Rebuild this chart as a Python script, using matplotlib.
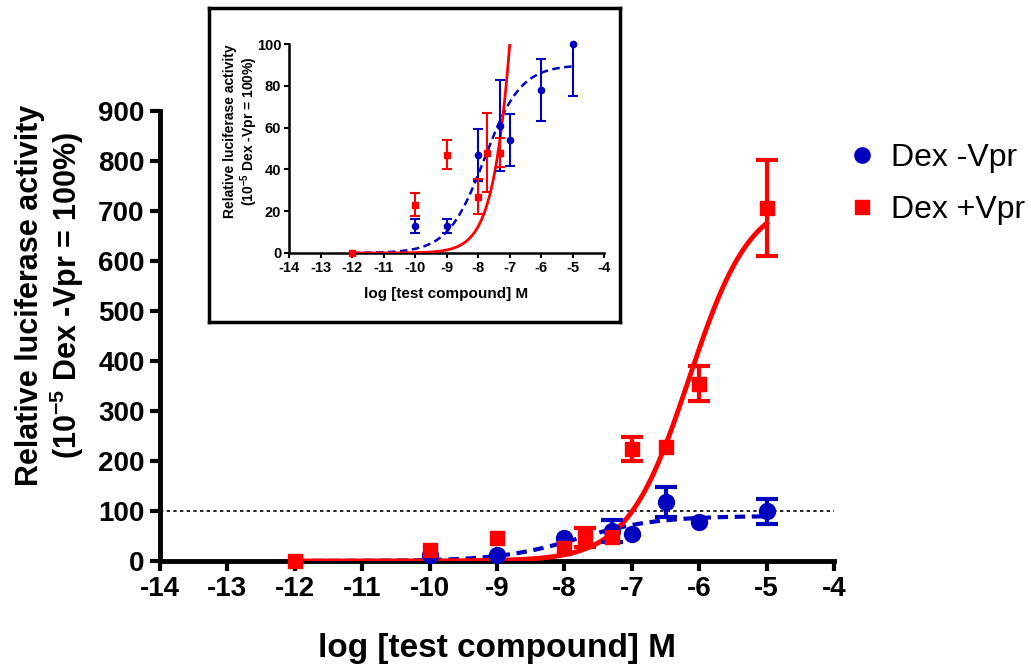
import numpy as np
import matplotlib
matplotlib.use("Agg")
import matplotlib.pyplot as plt
from matplotlib.lines import Line2D

plt.rcParams['font.family'] = ['Liberation Sans', 'DejaVu Sans']
plt.rcParams['axes.unicode_minus'] = False
plt.rcParams['mathtext.fontset'] = 'custom'
plt.rcParams['mathtext.rm'] = 'Liberation Sans'
plt.rcParams['mathtext.bf'] = 'Liberation Sans:bold'

# log concentrations and mean responses (Dex -Vpr = 100%)
x_minus = [-10, -9, -8, -7.3, -7, -6.5, -6, -5]
y_minus = [13, 13, 47, 61, 54, 118, 78, 100]
err_minus = [3.5, 3.5, 12.5, 22, 12.5, 30, 15, 25]

x_plus = [-12, -10, -9, -8, -7.7, -7.3, -7, -6.5, -6, -5]
y_plus = [0, 23, 47, 27, 48, 48, 225, 228, 355, 706]
err_plus = [0, 5.5, 7, 8.5, 19, 7, 24, 4, 35, 96]

# sigmoidal dose-response fit parameters: top, logEC50, hill slope
fit_minus = [90, -7.8, 0.75]
fit_plus = [730, -6.15, 0.95]
fit_range = [-12, -5]

labels = ['Dex -Vpr', 'Dex +Vpr']
blue = '#0000BF'
red = '#FF0000'
ylabel = 'Relative luciferase activity\n(10$^{\\mathbf{-5}}$ Dex -Vpr = 100%)'


def dose_response(x, top, logec, hill):
    return top / (1 + 10 ** ((logec - x) * hill))


def draw_series(ax, x, y, err, color, marker, ms, lw, cap, hide_below=0, ymax=None):
    x, y, err = np.array(x), np.array(y), np.array(err)
    keep = np.ones(len(x), bool) if ymax is None else y <= ymax
    x, y, err = x[keep], y[keep], err[keep]
    # error bars shorter than the symbol are not drawn
    e = np.where(err > hide_below, err, 0)
    show = e > 0
    ax.errorbar(x[show], y[show], yerr=e[show], fmt='none', ecolor=color,
                elinewidth=lw, capsize=cap, capthick=lw, zorder=4)
    ax.plot(x, y, ls='none', marker=marker, color=color, ms=ms, zorder=5, clip_on=False)


xs = np.linspace(fit_range[0], fit_range[1], 400)

fig = plt.figure(figsize=(10.31, 6.67), dpi=100)

# main plot
ax = fig.add_axes([160/1031, 1 - 561/667, 674/1031, 450/667])
ax.axhline(100, color='black', lw=1.2, ls=(0, (2, 2)), zorder=1)
ax.plot(xs, dose_response(xs, *fit_minus), color=blue, lw=3, ls=(0, (2.5, 1.6)), zorder=2)
ax.plot(xs, dose_response(xs, *fit_plus), color=red, lw=3.5, zorder=3)
draw_series(ax, x_minus, y_minus, err_minus, blue, 'o', 11.5, 3, 8, hide_below=15)
draw_series(ax, x_plus, y_plus, err_plus, red, 's', 10, 3, 8, hide_below=15)

ax.set_xlim(-14, -4)
ax.set_ylim(0, 900)
ax.set_xticks(range(-14, -3))
ax.set_yticks(range(0, 901, 100))
for s in ['top', 'right']:
    ax.spines[s].set_visible(False)
for s in ['left', 'bottom']:
    ax.spines[s].set_linewidth(3.5)
ax.tick_params(width=3, length=7, labelsize=20, pad=4)
for t in ax.get_xticklabels() + ax.get_yticklabels():
    t.set_fontweight('bold')
ax.set_xlabel('log [test compound] M', fontsize=24, fontweight='bold', labelpad=22)
ax.set_ylabel(ylabel, fontsize=22, fontweight='bold', linespacing=1.1, va='center')
ax.yaxis.set_label_coords(-0.163, 0.59)

# legend
handles = [Line2D([], [], marker='o', color=blue, ls='none', ms=11),
           Line2D([], [], marker='s', color=red, ls='none', ms=10)]
fig.legend(handles, labels, loc='upper left', bbox_to_anchor=(846/1031, 1 - 143/667),
           frameon=False, fontsize=23, handlelength=1, handletextpad=0.4,
           labelspacing=0.68, borderpad=0, borderaxespad=0)

# inset frame
frame = fig.add_axes([209/1031, 1 - 322/667, 411/1031, 314/667])
frame.set_xticks([])
frame.set_yticks([])
for s in frame.spines.values():
    s.set_linewidth(2.5)

# inset plot, same data zoomed to 0-100
ins = fig.add_axes([289/1031, 1 - 253/667, 315/1031, 209/667])
ins.plot(xs, dose_response(xs, *fit_minus), color=blue, lw=1.8, ls=(0, (3, 1.8)), zorder=2)
ins.plot(xs, dose_response(xs, *fit_plus), color=red, lw=2, zorder=3)
draw_series(ins, x_minus, y_minus, err_minus, blue, 'o', 4.5, 1.5, 3.5, ymax=100)
draw_series(ins, x_plus, y_plus, err_plus, red, 's', 4.5, 1.5, 3.5, ymax=100)
ins.set_xlim(-14, -4)
ins.set_ylim(0, 100)
ins.set_xticks(range(-14, -3))
ins.set_yticks(range(0, 101, 20))
for s in ['top', 'right']:
    ins.spines[s].set_visible(False)
for s in ['left', 'bottom']:
    ins.spines[s].set_linewidth(1.8)
ins.tick_params(width=1.5, length=3.5, labelsize=10.5, pad=2)
for t in ins.get_xticklabels() + ins.get_yticklabels():
    t.set_fontweight('bold')
ins.set_xlabel('log [test compound] M', fontsize=11, fontweight='bold', labelpad=9)
ins.set_ylabel(ylabel, fontsize=10, fontweight='bold', linespacing=1.1, va='center')
ins.yaxis.set_label_coords(-0.152, 0.584)

fig.savefig('out.png', dpi=100)
